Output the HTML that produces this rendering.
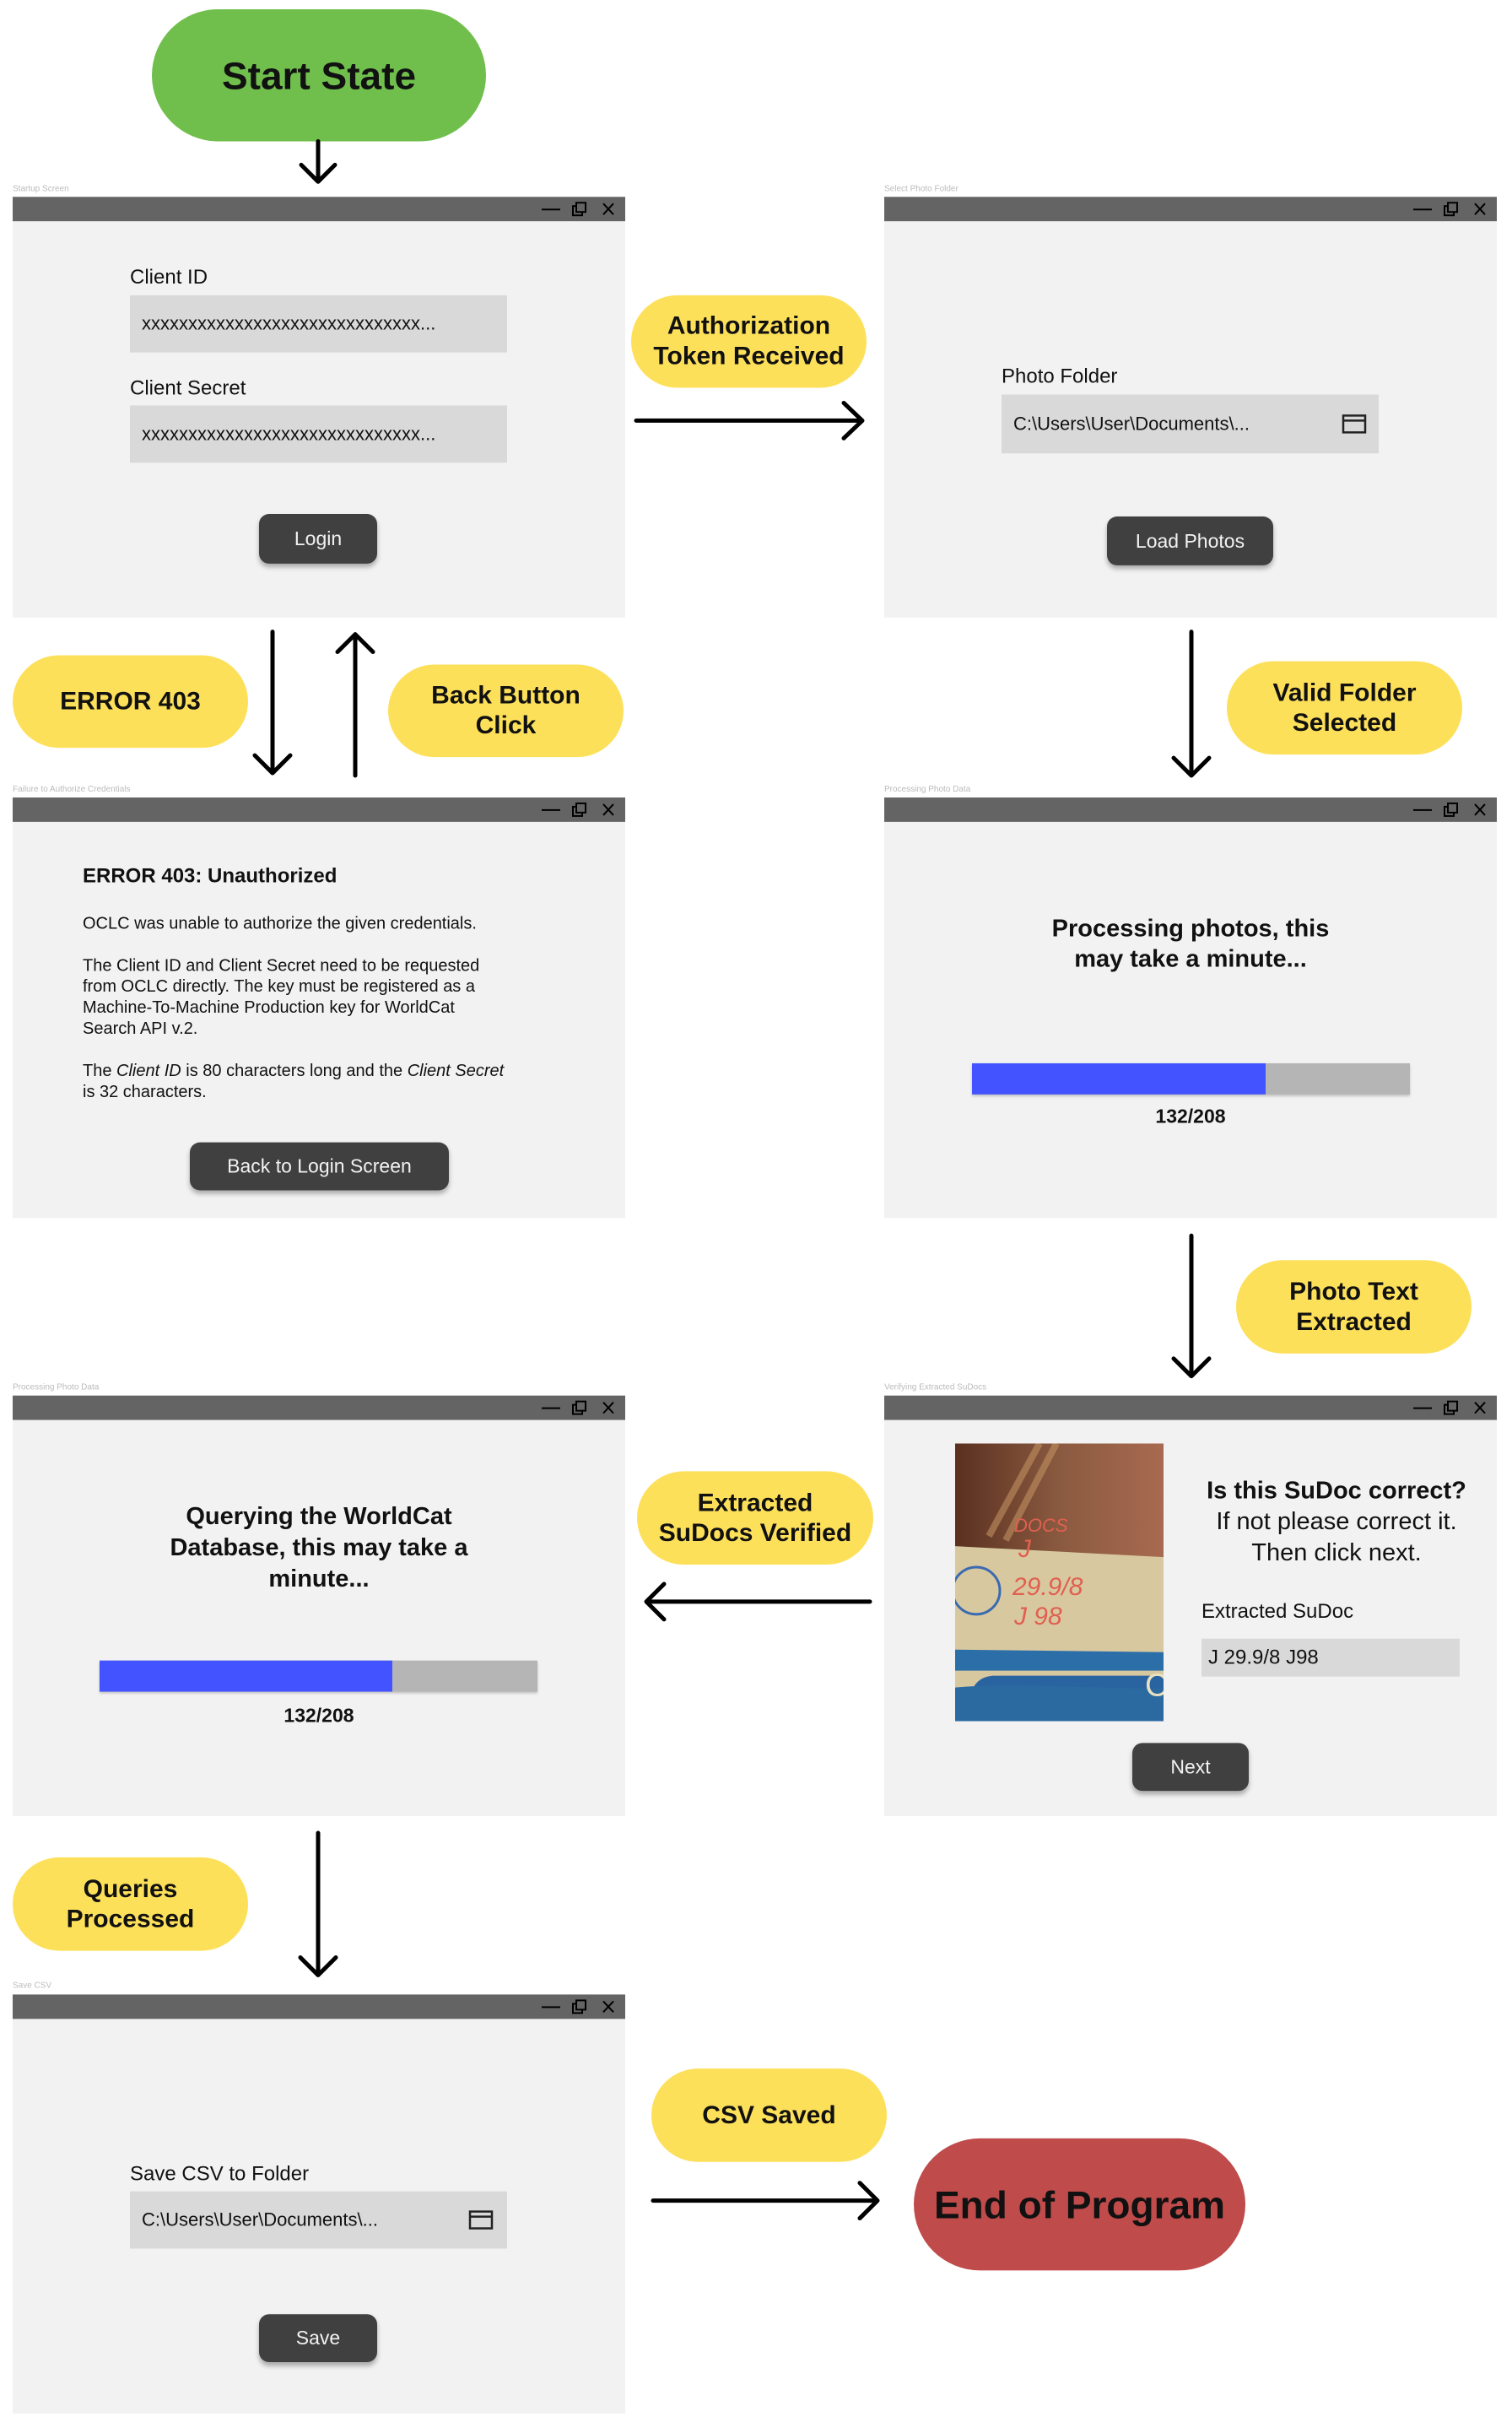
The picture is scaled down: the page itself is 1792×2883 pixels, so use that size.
<!DOCTYPE html>
<html><head><meta charset="utf-8"><style>
*{margin:0;padding:0;box-sizing:border-box}
body{width:1792px;height:2883px;background:#fff;position:relative;overflow:hidden;font-family:"Liberation Sans",sans-serif;color:#111}
#root{position:absolute;left:0;top:0;width:1792px;height:2883px;transform:scaleY(0.9968);transform-origin:0 0}
.a{position:absolute}
.win{position:absolute;background:#f2f2f2}
.tb{position:absolute;left:0;top:0;right:0;height:29px;background:#646464}
.ic{position:absolute;top:0;right:0;width:110px;height:29px}
.lbl{position:absolute;font-size:10px;color:#bbb}
.inp{position:absolute;background:#d9d9d9;font-size:22px;padding-left:14px;display:flex;align-items:center}
.btn{position:absolute;background:#404040;color:#f2f2f2;border-radius:12px;font-size:23px;display:flex;align-items:center;justify-content:center;box-shadow:0 4px 6px rgba(0,0,0,.3)}
.bub{position:absolute;background:#fde05a;border-radius:60px;font-weight:bold;font-size:30px;display:flex;align-items:center;justify-content:center;text-align:center;line-height:36px}
.ft{position:absolute;font-size:24px}
.c{text-align:center}
.b{font-weight:bold}
</style></head><body><div id="root">

<div class="a" style="left:180px;top:11px;width:396px;height:157px;background:#70bf4d;border-radius:80px;display:flex;align-items:center;justify-content:center;font-weight:bold;font-size:46px">Start State</div>

<!-- W1 -->
<div class="lbl" style="left:15px;top:219px">Startup Screen</div>
<div class="win" style="left:15px;top:234px;width:726px;height:500px">
<div class="tb"><svg class="ic" viewBox="0 0 110 29"><g stroke="#000" stroke-width="2" fill="none"><line x1="11" y1="15" x2="33" y2="15"/><rect x="48" y="11" width="11" height="11"/><rect x="52" y="7" width="11" height="11" fill="#646464"/><line x1="84" y1="8" x2="96" y2="21"/><line x1="96" y1="8" x2="84" y2="21"/></g></svg></div>
<div class="ft" style="left:139px;top:82px">Client ID</div>
<div class="inp" style="left:139px;top:117px;width:447px;height:68px">xxxxxxxxxxxxxxxxxxxxxxxxxxxxxx...</div>
<div class="ft" style="left:139px;top:214px">Client Secret</div>
<div class="inp" style="left:139px;top:248px;width:447px;height:68px">xxxxxxxxxxxxxxxxxxxxxxxxxxxxxx...</div>
<div class="btn" style="left:292px;top:377px;width:140px;height:59px">Login</div>
</div>

<!-- W2 -->
<div class="lbl" style="left:1048px;top:219px">Select Photo Folder</div>
<div class="win" style="left:1048px;top:234px;width:726px;height:500px">
<div class="tb"><svg class="ic" viewBox="0 0 110 29"><g stroke="#000" stroke-width="2" fill="none"><line x1="11" y1="15" x2="33" y2="15"/><rect x="48" y="11" width="11" height="11"/><rect x="52" y="7" width="11" height="11" fill="#646464"/><line x1="84" y1="8" x2="96" y2="21"/><line x1="96" y1="8" x2="84" y2="21"/></g></svg></div>
<div class="ft" style="left:139px;top:200px">Photo Folder</div>
<div class="inp" style="left:139px;top:235px;width:447px;height:70px">C:\Users\User\Documents\...</div>
<svg class="a" style="left:542px;top:258px" width="30" height="24"><rect x="2" y="2" width="26" height="20" fill="none" stroke="#222" stroke-width="2.5"/><line x1="2" y1="8" x2="28" y2="8" stroke="#222" stroke-width="2.5"/></svg>
<div class="btn" style="left:264px;top:380px;width:197px;height:58px">Load Photos</div>
</div>

<!-- W3 -->
<div class="lbl" style="left:15px;top:933px">Failure to Authorize Credentials</div>
<div class="win" style="left:15px;top:948px;width:726px;height:500px">
<div class="tb"><svg class="ic" viewBox="0 0 110 29"><g stroke="#000" stroke-width="2" fill="none"><line x1="11" y1="15" x2="33" y2="15"/><rect x="48" y="11" width="11" height="11"/><rect x="52" y="7" width="11" height="11" fill="#646464"/><line x1="84" y1="8" x2="96" y2="21"/><line x1="96" y1="8" x2="84" y2="21"/></g></svg></div>
<div class="a b" style="left:83px;top:80px;font-size:24px">ERROR 403: Unauthorized</div>
<div class="a" style="left:83px;top:138px;font-size:20px;line-height:25px;width:620px">OCLC was unable to authorize the given credentials.<br><br>The Client ID and Client Secret need to be requested<br>from OCLC directly. The key must be registered as a<br>Machine-To-Machine Production key for WorldCat<br>Search API v.2.<br><br>The <i>Client ID</i> is 80 characters long and the <i>Client Secret</i><br>is 32 characters.</div>
<div class="btn" style="left:210px;top:410px;width:307px;height:57px">Back to Login Screen</div>
</div>

<!-- W4 -->
<div class="lbl" style="left:1048px;top:933px">Processing Photo Data</div>
<div class="win" style="left:1048px;top:948px;width:726px;height:500px">
<div class="tb"><svg class="ic" viewBox="0 0 110 29"><g stroke="#000" stroke-width="2" fill="none"><line x1="11" y1="15" x2="33" y2="15"/><rect x="48" y="11" width="11" height="11"/><rect x="52" y="7" width="11" height="11" fill="#646464"/><line x1="84" y1="8" x2="96" y2="21"/><line x1="96" y1="8" x2="84" y2="21"/></g></svg></div>
<div class="a b c" style="left:0;width:726px;top:138px;font-size:29px;line-height:36px">Processing photos, this<br>may take a minute...</div>
<div class="a" style="left:104px;top:316px;width:519px;height:37px;background:#b5b5b5;box-shadow:0 2px 3px rgba(0,0,0,.2)"><div style="width:348px;height:100%;background:#4353ff"></div></div>
<div class="a b c" style="left:0;width:726px;top:366px;font-size:23px">132/208</div>
</div>

<!-- W5 -->
<div class="lbl" style="left:15px;top:1644px">Processing Photo Data</div>
<div class="win" style="left:15px;top:1659px;width:726px;height:500px">
<div class="tb"><svg class="ic" viewBox="0 0 110 29"><g stroke="#000" stroke-width="2" fill="none"><line x1="11" y1="15" x2="33" y2="15"/><rect x="48" y="11" width="11" height="11"/><rect x="52" y="7" width="11" height="11" fill="#646464"/><line x1="84" y1="8" x2="96" y2="21"/><line x1="96" y1="8" x2="84" y2="21"/></g></svg></div>
<div class="a b c" style="left:0;width:726px;top:126px;font-size:29px;line-height:37px">Querying the WorldCat<br>Database, this may take a<br>minute...</div>
<div class="a" style="left:103px;top:315px;width:519px;height:37px;background:#b5b5b5;box-shadow:0 2px 3px rgba(0,0,0,.2)"><div style="width:347px;height:100%;background:#4353ff"></div></div>
<div class="a b c" style="left:0;width:726px;top:367px;font-size:23px">132/208</div>
</div>

<!-- W6 -->
<div class="lbl" style="left:1048px;top:1644px">Verifying Extracted SuDocs</div>
<div class="win" style="left:1048px;top:1659px;width:726px;height:500px">
<div class="tb"><svg class="ic" viewBox="0 0 110 29"><g stroke="#000" stroke-width="2" fill="none"><line x1="11" y1="15" x2="33" y2="15"/><rect x="48" y="11" width="11" height="11"/><rect x="52" y="7" width="11" height="11" fill="#646464"/><line x1="84" y1="8" x2="96" y2="21"/><line x1="96" y1="8" x2="84" y2="21"/></g></svg></div>
<svg class="a" style="left:84px;top:57px" width="247" height="330" viewBox="0 0 247 330">
<defs><linearGradient id="g1" x1="0" y1="0" x2="1" y2="0"><stop offset="0" stop-color="#5a3020"/><stop offset=".5" stop-color="#8a5a40"/><stop offset="1" stop-color="#a86a50"/></linearGradient></defs>
<rect width="247" height="330" fill="#d8c8a0"/>
<path d="M0 0H247V135L0 122Z" fill="url(#g1)"/>
<g stroke="#c09060" stroke-width="8" opacity=".6"><line x1="40" y1="110" x2="100" y2="0"/><line x1="60" y1="115" x2="120" y2="0"/></g>
<path d="M0 245L247 248V270L0 270Z" fill="#2c6ea8"/>
<path d="M18 305Q20 278 45 276H247V330H18Z" fill="#2a64a0"/>
<path d="M0 290C60 285 150 290 247 292V330H0Z" fill="#2a6aa0"/>
<circle cx="25" cy="175" r="28" fill="none" stroke="#3a6ab0" stroke-width="3"/>
<text x="70" y="105" fill="#e06050" font-size="22" font-style="italic" font-family="Liberation Sans">DOCS</text>
<text x="75" y="135" fill="#e06050" font-size="30" font-style="italic" font-family="Liberation Sans">J</text>
<text x="68" y="180" fill="#e06050" font-size="30" font-style="italic" font-family="Liberation Sans">29.9/8</text>
<text x="70" y="215" fill="#e06050" font-size="30" font-style="italic" font-family="Liberation Sans">J 98</text>
<text x="225" y="300" fill="#e8e0c0" font-size="38" font-family="Liberation Sans">C</text>
</svg>
<div class="a c" style="left:350px;width:372px;top:95px;font-size:29px;line-height:37px"><b>Is this SuDoc correct?</b><br>If not please correct it.<br>Then click next.</div>
<div class="ft" style="left:376px;top:243px">Extracted SuDoc</div>
<div class="inp" style="left:376px;top:289px;width:306px;height:45px;padding-left:8px;font-size:24px">J 29.9/8 J98</div>
<div class="btn" style="left:294px;top:413px;width:138px;height:57px">Next</div>
</div>

<!-- W7 -->
<div class="lbl" style="left:15px;top:2355px">Save CSV</div>
<div class="win" style="left:15px;top:2371px;width:726px;height:498px">
<div class="tb"><svg class="ic" viewBox="0 0 110 29"><g stroke="#000" stroke-width="2" fill="none"><line x1="11" y1="15" x2="33" y2="15"/><rect x="48" y="11" width="11" height="11"/><rect x="52" y="7" width="11" height="11" fill="#646464"/><line x1="84" y1="8" x2="96" y2="21"/><line x1="96" y1="8" x2="84" y2="21"/></g></svg></div>
<div class="ft" style="left:139px;top:200px">Save CSV to Folder</div>
<div class="inp" style="left:139px;top:234px;width:447px;height:68px">C:\Users\User\Documents\...</div>
<svg class="a" style="left:540px;top:256px" width="30" height="24"><rect x="2" y="2" width="26" height="20" fill="none" stroke="#222" stroke-width="2.5"/><line x1="2" y1="8" x2="28" y2="8" stroke="#222" stroke-width="2.5"/></svg>
<div class="btn" style="left:292px;top:380px;width:140px;height:57px">Save</div>
</div>

<!-- bubbles -->
<div class="bub" style="left:748px;top:351px;width:279px;height:110px">Authorization<br>Token Received</div>
<div class="bub" style="left:15px;top:779px;width:279px;height:110px">ERROR 403</div>
<div class="bub" style="left:460px;top:790px;width:279px;height:110px">Back Button<br>Click</div>
<div class="bub" style="left:1454px;top:786px;width:279px;height:111px">Valid Folder<br>Selected</div>
<div class="bub" style="left:1465px;top:1498px;width:279px;height:111px">Photo Text<br>Extracted</div>
<div class="bub" style="left:755px;top:1749px;width:280px;height:111px">Extracted<br>SuDocs Verified</div>
<div class="bub" style="left:15px;top:2208px;width:279px;height:111px">Queries<br>Processed</div>
<div class="bub" style="left:772px;top:2459px;width:279px;height:111px">CSV Saved</div>
<div class="a" style="left:1083px;top:2542px;width:393px;height:157px;background:#bf4b4b;border-radius:80px;display:flex;align-items:center;justify-content:center;font-weight:bold;font-size:46px">End of Program</div>

<!-- arrows -->
<svg class="a" style="left:0;top:0" width="1792" height="2883">
<g stroke="#000" stroke-width="5" fill="none" stroke-linecap="round" stroke-linejoin="round">
<path d="M377 168V216M357 196L377 216L397 196"/>
<path d="M754 500H1022M1000 479L1022 500L1000 521"/>
<path d="M323 751V919M302 898L323 919L344 898"/>
<path d="M421 922V754M400 775L421 754L442 775"/>
<path d="M1412 751V922M1391 901L1412 922L1433 901"/>
<path d="M1412 1469V1636M1391 1615L1412 1636L1433 1615"/>
<path d="M1031 1904H766M787 1883L766 1904L787 1925"/>
<path d="M377 2179V2348M356 2327L377 2348L398 2327"/>
<path d="M774 2616H1040M1019 2595L1040 2616L1019 2637"/>
</g></svg>
</div></body></html>
